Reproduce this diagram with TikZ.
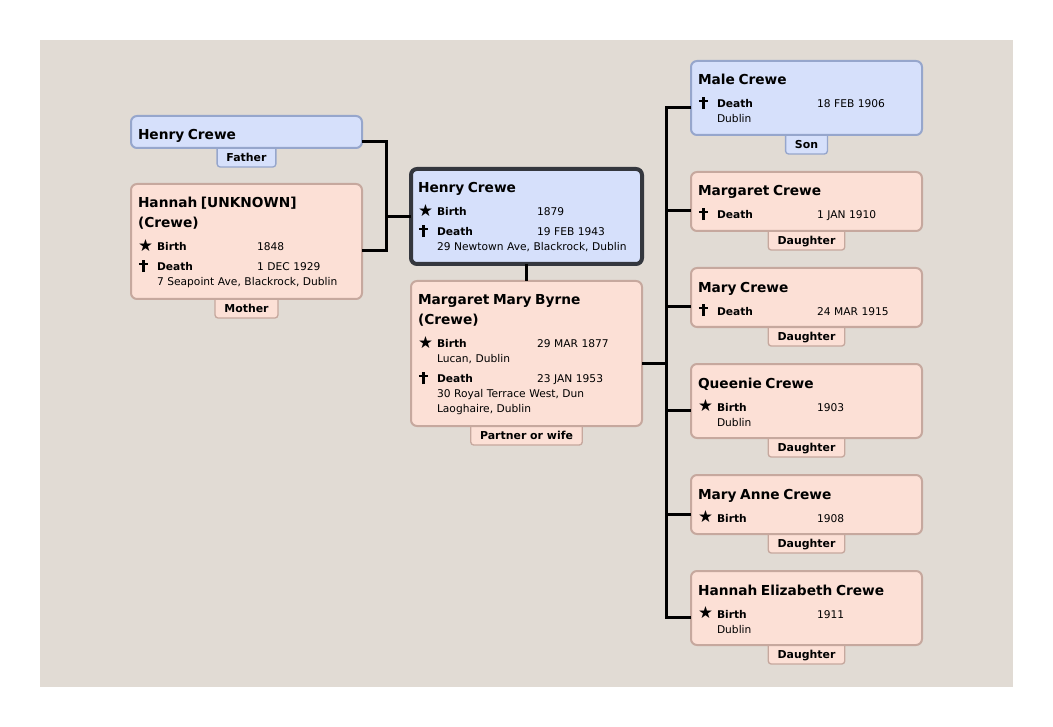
\documentclass[tikz,border=0pt]{standalone}
\usepackage{fontspec}
\setmainfont{DejaVu Sans}
\usepackage{tikz}
\usetikzlibrary{positioning,calc,backgrounds}

\definecolor{sand}{RGB}{225,219,212}
\definecolor{pinkfill}{RGB}{252,224,214}
\definecolor{pinkline}{RGB}{198,168,158}
\definecolor{bluefill}{RGB}{214,224,251}
\definecolor{blueline}{RGB}{150,166,204}
\definecolor{focusline}{RGB}{52,55,62}

\newcommand{\ev}[3]{\makebox[14.25pt][l]{#1}\makebox[75pt][l]{\bfseries #2}#3}
\newcommand{\staricon}{\raisebox{-0.6pt}{\fontsize{12.5}{12}\selectfont ★}}
\newcommand{\crossicon}{\hspace*{0.6pt}\rlap{\hspace*{2.3pt}\rule[-0.8pt]{2pt}{8.8pt}}\raisebox{4.4pt}{\rule{6.6pt}{1.9pt}}}
\newcommand{\born}[1]{\ev{\staricon}{Birth}{#1}}
\newcommand{\died}[1]{\ev{\crossicon}{Death}{#1}}
\newcommand{\addr}[1]{\hspace*{14.25pt}#1}
\newcommand{\pname}[1]{{\fontsize{10.3}{12}\selectfont\bfseries #1}}

\begin{document}
\begin{tikzpicture}[x=0.75pt,y=-0.75pt,node distance=27.75pt,
  person/.style={rectangle,rounded corners=4.5pt,draw=pinkline,fill=pinkfill,line width=1.5pt,
    text width=162.75pt,align=left,inner xsep=5.25pt,inner ysep=0pt,outer sep=0pt,text height=18pt,
    font=\fontsize{8}{11.25}\selectfont},
  male/.style={draw=blueline,fill=bluefill},
  focus/.style={male,draw=focusline,line width=3pt},
  tag/.style={rectangle,rounded corners=2.25pt,draw=pinkline,fill=pinkfill,line width=1pt,
    inner xsep=7pt,inner ysep=0pt,outer sep=0pt,text height=13.1pt,text depth=4.15pt,
    font=\fontsize{8.2}{10}\selectfont\bfseries},
  link/.style={line width=2.25pt}]
  \useasboundingbox (0,0) rectangle (1053,727);
  \begin{scope}[on background layer]
    \fill[sand] (40,40) rectangle (1013,687);
  \end{scope}

  \node[person,male,anchor=north west,text depth=6pt] (fa) at (131,116) {\pname{Henry Crewe}};
  \node[person,below=27pt of fa,text depth=68.25pt] (mo)
    {\pname{Hannah [UNKNOWN]}\\[3.75pt]\pname{(Crewe)}\\[6pt]\born{1848}\\[3.75pt]\died{1 DEC 1929}\\\addr{7 Seapoint Ave, Blackrock, Dublin}};

  \node[person,focus,anchor=north west,text depth=53.25pt] (hc) at (411,169)
    {\pname{Henry Crewe}\\[6pt]\born{1879}\\[3.75pt]\died{19 FEB 1943}\\\addr{29 Newtown Ave, Blackrock, Dublin}};
  \node[person,below=12.75pt of hc,text depth=90.75pt] (wf)
    {\pname{Margaret Mary Byrne}\\[3.75pt]\pname{(Crewe)}\\[6pt]\born{29 MAR 1877}\\\addr{Lucan, Dublin}\\[3.75pt]\died{23 JAN 1953}\\\addr{30 Royal Terrace West, Dun}\\\addr{Laoghaire, Dublin}};

  \node[person,male,anchor=north west,text depth=37.5pt] (c1) at (691,61)
    {\pname{Male Crewe}\\[6pt]\died{18 FEB 1906}\\\addr{Dublin}};
  \node[person,below=of c1,text depth=26.25pt] (c2) {\pname{Margaret Crewe}\\[6pt]\died{1 JAN 1910}};
  \node[person,below=of c2,text depth=26.25pt] (c3) {\pname{Mary Crewe}\\[6pt]\died{24 MAR 1915}};
  \node[person,below=of c3,text depth=37.5pt] (c4) {\pname{Queenie Crewe}\\[6pt]\born{1903}\\\addr{Dublin}};
  \node[person,below=of c4,text depth=26.25pt] (c5) {\pname{Mary Anne Crewe}\\[6pt]\born{1908}};
  \node[person,below=of c5,text depth=37.5pt] (c6) {\pname{Hannah Elizabeth Crewe}\\[6pt]\born{1911}\\\addr{Dublin}};

  \begin{scope}[on background layer]
    \node[tag,male,below=-3pt of fa] (fa-t) {Father};
    \node[tag,below=-3pt of mo] (mo-t) {Mother};
    \node[tag,below=-3pt of wf] (wf-t) {Partner or wife};
    \node[tag,male,below=-3pt of c1] (c1-t) {Son};
    \foreach \i in {2,...,6}
      \node[tag,below=-3pt of c\i] (c\i-t) {Daughter};
  \end{scope}

  \foreach \p in {fa,mo,wf}
    \coordinate (\p-c) at ($(\p.north east)!.5!(\p.east |- \p-t.south)$);
  \foreach \i in {1,...,6}
    \coordinate (c\i-c) at ($(c\i.north west)!.5!(c\i.west |- c\i-t.south)$);
  \coordinate (pj) at ($(fa.east)!.5!(hc.west)$);
  \coordinate (cj) at ($(wf.east)!.5!(c1.west)$);

  \draw[link] (fa-c) -| (pj |- mo-c) -- (mo-c);
  \draw[link] (pj |- hc.west) -- (hc.west);
  \draw[link] (hc.south) -- (wf.north);
  \draw[link] (wf-c) -- (cj |- wf-c);
  \draw[link] (c1-c) -| (cj |- c6-c) -- (c6-c);
  \foreach \i in {2,...,5}
    \draw[link] (cj |- c\i-c) -- (c\i-c);
\end{tikzpicture}
\end{document}
